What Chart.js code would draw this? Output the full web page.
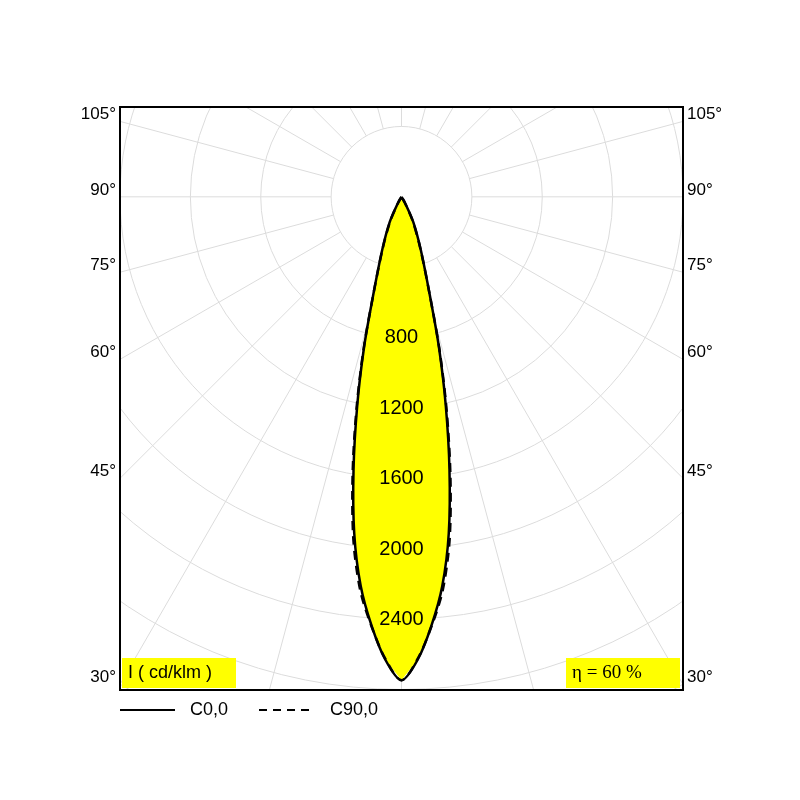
<!DOCTYPE html>
<html><head><meta charset="utf-8">
<script src="https://cdn.jsdelivr.net/npm/chart.js@4/dist/chart.umd.min.js"></script>
<style>html,body{margin:0;background:#fff}#w{width:800px;height:800px}</style>
</head><body><div id="w"><canvas id="c"></canvas></div>
<script>
const angles = [0,2,4,6,8,10,12,14,16,20,25,30,35];
const c0 = [2745,2630,2440,2220,1930,1570,1210,880,590,320,160,40,0];
const c90 = [2745,2625,2445,2245,1965,1600,1230,890,590,315,150,35,0];
const ringValues = [800,1200,1600,2000,2400];
const angleLabels = [30,45,60,75,90,105];
const etaText = "η = 60 %";
const unitText = "I ( cd/klm )";
const seriesNames = ["C0,0","C90,0"];

function toPts(arr){
  const pts=[];
  for(let i=angles.length-1;i>=0;i--){const t=angles[i]*Math.PI/180;pts.push({x:-arr[i]*Math.sin(t),y:-arr[i]*Math.cos(t)});}
  for(let i=1;i<angles.length;i++){const t=angles[i]*Math.PI/180;pts.push({x:arr[i]*Math.sin(t),y:-arr[i]*Math.cos(t)});}
  return pts;
}
const polar={id:'polar',
 beforeDatasetsDraw(ch){
  const {ctx,chartArea:a,scales:{x,y}}=ch;
  const cx=x.getPixelForValue(0),cy=y.getPixelForValue(0),k=x.getPixelForValue(1000)-cx;
  ctx.save();ctx.beginPath();ctx.rect(a.left,a.top,a.right-a.left,a.bottom-a.top);ctx.clip();
  ctx.strokeStyle='#dcdcdc';ctx.lineWidth=1;
  for(let r=400;r<=5000;r+=400){ctx.beginPath();ctx.arc(cx,cy,r*k/1000,0,2*Math.PI);ctx.stroke();}
  for(let d=0;d<360;d+=15){const t=d*Math.PI/180;ctx.beginPath();
   ctx.moveTo(cx+Math.sin(t)*0.4*k,cy+Math.cos(t)*0.4*k);ctx.lineTo(cx+Math.sin(t)*6*k,cy+Math.cos(t)*6*k);ctx.stroke();}
  // fill
  const m=ch.getDatasetMeta(0).data;ctx.beginPath();
  m.forEach((p,i)=>i?ctx.lineTo(p.x,p.y):ctx.moveTo(p.x,p.y));ctx.closePath();ctx.fillStyle='#ffff00';ctx.fill();
  ctx.restore();
 },
 afterDatasetsDraw(ch){
  const {ctx,chartArea:a,scales:{x,y}}=ch;
  const cx=x.getPixelForValue(0),cy=y.getPixelForValue(0);
  ctx.save();
  ctx.fillStyle='#000';ctx.font='20px Arial, "Liberation Sans"';ctx.textAlign='center';ctx.textBaseline='middle';
  ringValues.forEach(v=>ctx.fillText(String(v),cx,y.getPixelForValue(-v)));
  ctx.strokeStyle='#000';ctx.lineWidth=2;ctx.strokeRect(a.left,a.top,a.right-a.left,a.bottom-a.top);
  ctx.font='17px Arial, "Liberation Sans"';
  const half=a.right-cx;
  angleLabels.forEach(d=>{const t=(d-90)*Math.PI/180;const py=cy-Math.tan(t)*half*-1;
   const yy=cy+Math.tan(-t)*-half; const yl=cy - half*Math.tan(t)*-1;
   const ypix=cy+half/Math.tan(d*Math.PI/180)*0; 
   const Y=cy+ half*(Math.cos(d*Math.PI/180)/Math.sin(d*Math.PI/180)) - 7;
   ctx.textAlign='right';ctx.fillText(d+'°',a.left-4,Y);ctx.textAlign='left';ctx.fillText(d+'°',a.right+4,Y);});
  // boxes
  ctx.fillStyle='#ffff00';ctx.fillRect(a.left+2,a.bottom-32,114,30);ctx.fillRect(a.right-117,a.bottom-32,114,30);
  ctx.fillStyle='#000';ctx.textAlign='left';ctx.font='18px Arial, "Liberation Sans"';ctx.fillText(unitText,a.left+8,a.bottom-17);
  ctx.font='19px "Liberation Serif", "Times New Roman"';ctx.fillText(etaText,a.right-111,a.bottom-17);
  // legend
  const ly=a.bottom+20;ctx.lineWidth=2;ctx.beginPath();ctx.moveTo(a.left,ly);ctx.lineTo(a.left+55,ly);ctx.stroke();
  ctx.setLineDash([8,6]);ctx.beginPath();ctx.moveTo(a.left+139,ly);ctx.lineTo(a.left+192,ly);ctx.stroke();ctx.setLineDash([]);
  ctx.font='18px Arial, "Liberation Sans"';ctx.fillText(seriesNames[0],a.left+70,ly);ctx.fillText(seriesNames[1],a.left+210,ly);
  ctx.restore();
 }};
new Chart(document.getElementById('c'),{type:'scatter',
 data:{datasets:[
  {data:toPts(c0),showLine:true,borderColor:'#000',borderWidth:2.5,pointRadius:0,tension:0.3,fill:false},
  {data:toPts(c90),showLine:true,borderColor:'#000',borderWidth:2.5,borderDash:[9,6],pointRadius:0,tension:0.3,fill:false}]},
 options:{responsive:true,maintainAspectRatio:false,animation:false,
  layout:{padding:{left:120,right:117,top:107,bottom:110}},
  plugins:{legend:{display:false},tooltip:{enabled:false}},
  scales:{x:{display:false,min:-1600,max:1600},y:{display:false,min:-2800,max:510}}},
 plugins:[polar]});
</script></body></html>
